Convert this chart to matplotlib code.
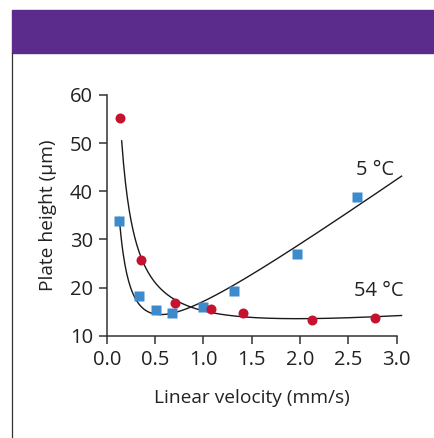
import numpy as np
import matplotlib
matplotlib.use('Agg')
import matplotlib.pyplot as plt
from matplotlib.patches import Rectangle
from matplotlib.lines import Line2D

# 54 C (red circles)
u_54 = [0.14, 0.355, 0.71, 1.075, 1.41, 2.12, 2.775]
h_54 = [55.3, 25.8, 16.8, 15.5, 14.7, 13.3, 13.7]

# 5 C (blue squares)
u_5 = [0.13, 0.335, 0.507, 0.672, 1.0, 1.32, 1.965, 2.59]
h_5 = [33.9, 18.3, 15.4, 14.7, 16.0, 19.3, 27.0, 38.8]

x_ticks = [0.0, 0.5, 1.0, 1.5, 2.0, 2.5, 3.0]
y_ticks = [10, 20, 30, 40, 50, 60]

plt.rcParams['font.family'] = ['Open Sans', 'DejaVu Sans']

RED = '#C4122F'
BLUE = '#3D8BCD'
PURPLE = '#5B2C8C'
INK = '#222222'


def van_deemter(u, h):
    # least squares fit of H = A + B/u + C*u
    u = np.asarray(u)
    M = np.column_stack([np.ones_like(u), 1.0 / u, u])
    coef, *_ = np.linalg.lstsq(M, np.asarray(h), rcond=None)
    return coef


fig = plt.figure(figsize=(4.35, 4.38), dpi=100)

# purple banner and left rule
fig.patches.append(Rectangle((12 / 435, 1 - 53 / 438), 1 - 12 / 435, 43 / 438,
                             transform=fig.transFigure, color=PURPLE, zorder=0))
fig.lines.append(Line2D([12.5 / 435, 12.5 / 435], [0, 1 - 53 / 438],
                        transform=fig.transFigure, color='#333333', lw=0.9))

ax = fig.add_axes([106.7 / 435, 1 - 335.7 / 438, 290 / 435, 240.7 / 438])

uu = np.linspace(0.13, 3.05, 300)
A, B, C = van_deemter(u_5, h_5)
ax.plot(uu, A + B / uu + C * uu, color='#1a1a1a', lw=1.0, clip_on=False)
uu2 = np.linspace(0.155, 3.05, 300)
A, B, C = van_deemter(u_54, h_54)
ax.plot(uu2, A + B / uu2 + C * uu2, color='#1a1a1a', lw=1.0, clip_on=False)

ax.plot(u_5, h_5, 's', color=BLUE, ms=6.5, mec='none', clip_on=False, zorder=3)
ax.plot(u_54, h_54, 'o', color=RED, ms=7.2, mec='none', clip_on=False, zorder=3)

ax.text(2.58, 44.4, '5 °C', fontsize=14.5, color=INK, va='center', ha='left')
ax.text(2.56, 19.2, '54 °C', fontsize=14.5, color=INK, va='center', ha='left')

ax.set_xlim(0, 3.0)
ax.set_ylim(10, 60)
ax.set_xticks(x_ticks)
ax.set_xticklabels([f'{v:.1f}' for v in x_ticks])
ax.set_yticks(y_ticks)
for s in ['top', 'right']:
    ax.spines[s].set_visible(False)
for s in ['left', 'bottom']:
    ax.spines[s].set_linewidth(1.1)
    ax.spines[s].set_color('#333333')
ax.tick_params(direction='out', length=5.5, width=1.1, color='#333333',
               labelsize=14.5, labelcolor=INK, pad=4.5)

ax.set_xlabel('Linear velocity (mm/s)', fontsize=13.8, color=INK, labelpad=14)
ax.set_ylabel('Plate height (μm)', fontsize=13.8, color=INK, labelpad=9)

fig.savefig('out.png', dpi=100)
